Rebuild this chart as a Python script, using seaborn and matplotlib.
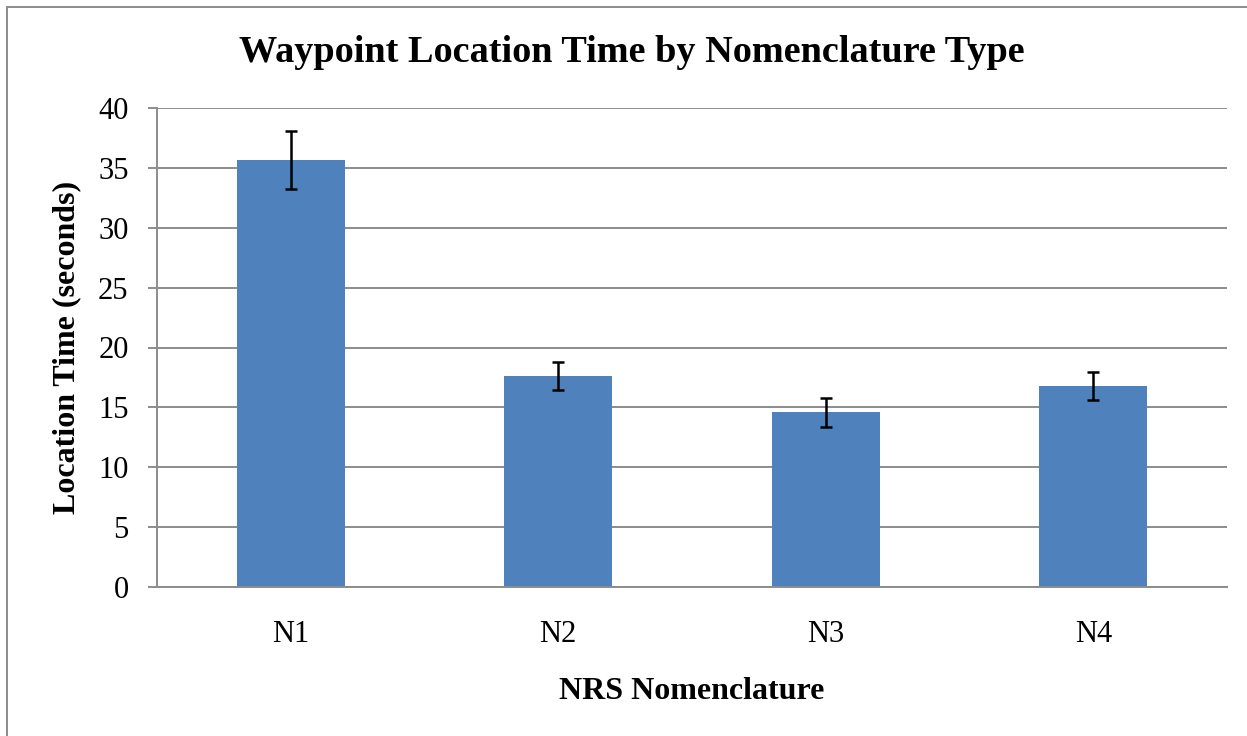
import matplotlib
matplotlib.use("Agg")
import matplotlib.pyplot as plt
from matplotlib.patches import Rectangle
import pandas as pd
import seaborn as sns

categories = ["N1", "N2", "N3", "N4"]
mean_time = [35.65, 17.65, 14.6, 16.75]
err_time = [2.4, 1.17, 1.2, 1.17]

df = pd.DataFrame({"nomenclature": categories, "time": mean_time})

sns.set_theme(style="white")
plt.rcParams["font.family"] = ["Liberation Serif", "DejaVu Serif"]
plt.rcParams["text.color"] = "black"
plt.rcParams["axes.labelcolor"] = "black"

fig = plt.figure(figsize=(12.47, 7.36), dpi=100)
ax = fig.add_axes([157 / 1247, 1 - 587 / 736, 1070 / 1247, 479 / 736])

sns.barplot(data=df, x="nomenclature", y="time", color="#4F81BD",
            saturation=1, width=0.405, errorbar=None, ax=ax, zorder=2,
            linewidth=0, edgecolor="none")

# error bars centred on each bar
xs = [p.get_x() + p.get_width() / 2 for p in ax.patches]
ax.errorbar(xs, mean_time, yerr=err_time, fmt="none", ecolor="black",
            elinewidth=1.8, capsize=4.5, capthick=1.8, zorder=3)

ax.set_ylim(0, 40)
ax.set_xlim(-0.5, 3.5)
ax.set_yticks(range(0, 41, 5))
ax.yaxis.grid(True, color="#8c8c8c", linewidth=1.4, zorder=0)
ax.set_axisbelow(True)

for side in ["top", "right"]:
    ax.spines[side].set_visible(False)
for side in ["left", "bottom"]:
    ax.spines[side].set_color("#8c8c8c")
    ax.spines[side].set_linewidth(1.4)

ax.tick_params(axis="y", left=True, length=6.5, width=1.4, color="#8c8c8c",
               pad=14, labelsize=22, labelcolor="black")
ax.tick_params(axis="x", bottom=False, length=0, pad=24, labelsize=22,
               labelcolor="black")

ax.set_xlabel("NRS Nomenclature", fontsize=23, fontweight="bold", labelpad=20)
ax.set_ylabel("Location Time (seconds)", fontsize=23, fontweight="bold",
              labelpad=12)
fig.text(632 / 1247, 1 - 52 / 736, "Waypoint Location Time by Nomenclature Type",
         ha="center", va="center", fontsize=27.5, fontweight="bold",
         color="black")

# chart area border (left and top visible)
fig.add_artist(Rectangle((7 / 1247, -0.1), 1.2, 1 - 7 / 736 + 0.1,
                         transform=fig.transFigure, fill=False,
                         edgecolor="#8c8c8c", linewidth=1.4))

fig.savefig("out.png", dpi=100)
